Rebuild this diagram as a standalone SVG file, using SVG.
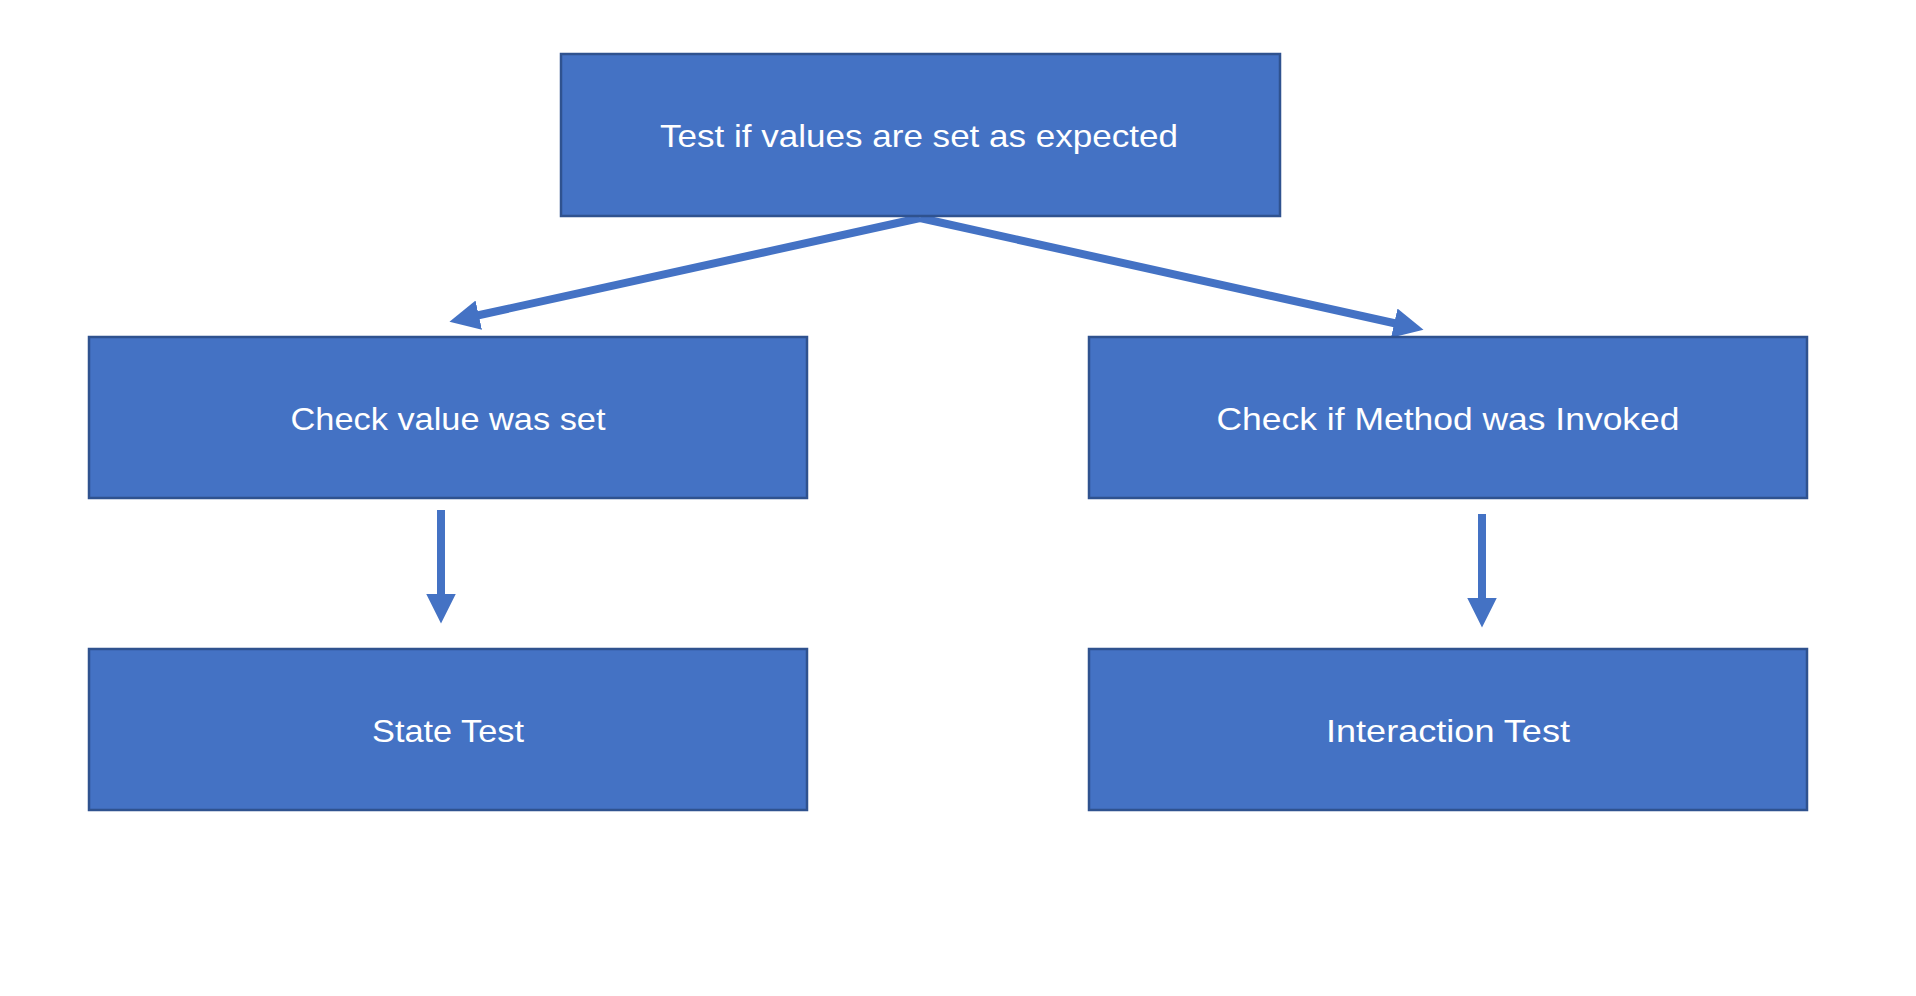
<svg xmlns="http://www.w3.org/2000/svg" width="1916" height="996" viewBox="0 0 1916 996">
  <style>
    .box { fill: #4472C4; stroke: #2F528F; stroke-width: 2.5; }
    .lbl { fill: #FFFFFF; font-family: "Liberation Sans", Arial, sans-serif; font-size: 32px; text-anchor: middle; }
    .conn { stroke: #4472C4; stroke-width: 8; fill: none; marker-end: url(#arrow); }
  </style>
  <defs>
    <marker id="arrow" viewBox="0 0 10 10" markerWidth="3.75" markerHeight="3.75" refX="0.5" refY="5" orient="auto" markerUnits="strokeWidth">
      <path d="M0,0 L10,5 L0,10 z" fill="#4472C4"/>
    </marker>
  </defs>
  <rect width="1916" height="996" fill="#FFFFFF"/>
  <g id="connectors">
    <line class="conn" x1="920" y1="218" x2="477.3" y2="315.5"/>
    <line class="conn" x1="920" y1="218" x2="1395.7" y2="323.5"/>
    <line class="conn" x1="441" y1="510" x2="441" y2="595"/>
    <line class="conn" x1="1482" y1="514" x2="1482" y2="599"/>
  </g>
  <g id="node-top">
    <rect class="box" x="561" y="54" width="719" height="162"/>
    <text class="lbl" x="919" y="147" textLength="518" lengthAdjust="spacingAndGlyphs">Test if values are set as expected</text>
  </g>
  <g id="node-check-value">
    <rect class="box" x="89" y="337" width="718" height="161"/>
    <text class="lbl" x="448" y="430" textLength="315" lengthAdjust="spacingAndGlyphs">Check value was set</text>
  </g>
  <g id="node-check-method">
    <rect class="box" x="1089" y="337" width="718" height="161"/>
    <text class="lbl" x="1448" y="430" textLength="463" lengthAdjust="spacingAndGlyphs">Check if Method was Invoked</text>
  </g>
  <g id="node-state-test">
    <rect class="box" x="89" y="649" width="718" height="161"/>
    <text class="lbl" x="448" y="742" textLength="152" lengthAdjust="spacingAndGlyphs">State Test</text>
  </g>
  <g id="node-interaction-test">
    <rect class="box" x="1089" y="649" width="718" height="161"/>
    <text class="lbl" x="1448" y="742" textLength="244" lengthAdjust="spacingAndGlyphs">Interaction Test</text>
  </g>
</svg>
